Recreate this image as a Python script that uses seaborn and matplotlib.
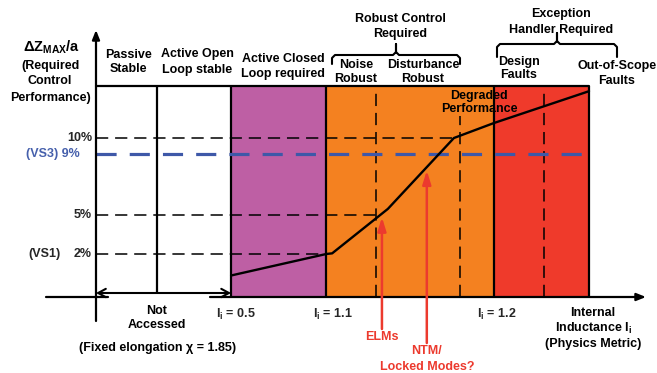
import numpy as np
import matplotlib
matplotlib.use("Agg")
import matplotlib.pyplot as plt
import seaborn as sns

# ---- data -----------------------------------------------------------------
# schematic internal-inductance axis: origin = 0, right edge of the box = 100
zone_edges = [0.0, 12.4, 27.4, 46.7, 80.7, 100.0]
zone_colors = ["white", "white", "#BE5FA4", "#F48120", "#EF3A2B"]
solid_dividers = [12.4, 27.4, 46.7, 80.7, 100.0]
dashed_dividers = [56.8, 73.8, 90.9]

# required control performance (dZmax/a, %) along the l_i axis
curve_x = [27.4, 46.7, 47.9, 59.2, 72.6, 80.7, 100.0]
curve_pct = [1.0, 2.0, 2.05, 5.4, 10.0, 11.15, 13.6]

threshold_pct = [2, 5, 10]
threshold_labels = ["2%", "5%", "10%"]
vs3_pct = 9
vs3_label = "(VS3) 9%"
box_top_pct = 14

li_tick_x = [27.4, 46.7, 80.7]
li_tick_values = ["0.5", "1.1", "1.2"]

event_x = [58.0, 67.1]
event_labels = [["ELMs"], ["NTM/", "Locked Modes?"]]

# ---- style ----------------------------------------------------------------
sns.set_style("white")
FONT = ["Liberation Sans", "DejaVu Sans"]
plt.rcParams["font.family"] = FONT
plt.rcParams["font.weight"] = "bold"
plt.rcParams["mathtext.default"] = "regular"

FS = 9
VS3_TXT = "#4660AC"
RED_TXT = "#EC3A2E"
BLUE = "#3E58A8"

W, H = 657, 373
fig = plt.figure(figsize=(W / 100, H / 100), dpi=100)
ax = fig.add_axes([0, 0, 1, 1])

# the % axis of the schematic is not linear: map % to drawing height
pct_anchor = np.array([-20, 0, 2, 5, 9, 10, 14, 40], dtype=float)
pos_anchor = np.array([-200, 0, 43, 82, 143, 159, 211, 549], dtype=float)


def fwd(v):
    return np.interp(v, pct_anchor, pos_anchor)


def inv(p):
    return np.interp(p, pos_anchor, pct_anchor)


ax.set_yscale("function", functions=(fwd, inv))

OX, OY, SX = 96, 297, 4.93  # origin pixel and pixels per schematic unit


def X(px):
    return (px - OX) / SX


def Y(py):
    return float(inv(OY - py))


ax.set_xlim(X(0), X(W))
ax.set_ylim(Y(H), Y(0))
ax.axis("off")

# ---- zones ----------------------------------------------------------------
ax.bar(zone_edges[:-1], box_top_pct, width=np.diff(zone_edges), align="edge",
       color=zone_colors, edgecolor="none", zorder=1)

for xv in solid_dividers:
    lo = Y(293) if xv == zone_edges[1] else 0
    ax.plot([xv, xv], [lo, box_top_pct], color="black", lw=1.6, zorder=4,
            solid_capstyle="butt")
for xv in dashed_dividers:
    hi = Y(116) if xv == dashed_dividers[1] else box_top_pct
    ax.plot([xv, xv], [0, hi], color="black", lw=1.1, dashes=(8, 4.5), zorder=3)
ax.plot([0, zone_edges[-1]], [box_top_pct, box_top_pct], color="black", lw=1.6,
        zorder=4)

# threshold guides end where the curve reaches them
for lv, lab in zip(threshold_pct, threshold_labels):
    x_end = np.interp(lv, curve_pct, curve_x)
    ax.plot([0, x_end], [lv, lv], color="black", lw=1.1, dashes=(8, 4.5), zorder=3)
    ax.text(X(92), lv, lab, ha="right", va="center", fontsize=FS, zorder=6)
ax.text(X(44), threshold_pct[0], "(VS1)", ha="center", va="center", fontsize=FS)

ax.plot([0, zone_edges[-1]], [vs3_pct, vs3_pct], color=BLUE, lw=2.3,
        dashes=(6.3, 4.1), zorder=5)
ax.text(X(80), vs3_pct, vs3_label, ha="right", va="center", fontsize=FS,
        color=VS3_TXT)

# required-performance curve
sns.lineplot(x=curve_x, y=curve_pct, color="black", lw=1.7, ax=ax, zorder=6)

# ---- axes -----------------------------------------------------------------
ax.annotate("", xy=(0, Y(30)), xytext=(0, Y(321)),
            arrowprops=dict(arrowstyle="-|>,head_length=0.55,head_width=0.22",
                            lw=1.6, color="black", shrinkA=0, shrinkB=0),
            annotation_clip=False, zorder=7)
ax.annotate("", xy=(X(646), 0), xytext=(X(210), 0),
            arrowprops=dict(arrowstyle="-|>,head_length=0.55,head_width=0.22",
                            lw=1.6, color="black", shrinkA=0, shrinkB=0),
            annotation_clip=False, zorder=7)
ax.plot([X(46), X(108)], [0, 0], color="black", lw=1.6, clip_on=False)
ax.annotate("", xy=(0, Y(293)), xytext=(zone_edges[2], Y(293)),
            arrowprops=dict(arrowstyle="<->,head_length=0.55,head_width=0.3",
                            lw=1.5, color="black", shrinkA=0, shrinkB=0),
            zorder=7)


# ---- braces ---------------------------------------------------------------
def brace(x0, x1, xm, yb, ytop, yend):
    xs = [x0, x0, x0 + 3, xm - 3, xm, xm, xm, xm + 3, x1 - 3, x1, x1]
    ys = [yend, yb + 3, yb, yb, yb - 3, ytop, yb - 3, yb, yb, yb + 3, yend]
    ax.plot([X(v) for v in xs], [Y(v) for v in ys], color="black", lw=1.5,
            clip_on=False)


brace(332, 460, 396, 55, 44, 64)
brace(497, 617, 557, 44, 33, 57)


# ---- text -----------------------------------------------------------------
def put(px, py_first, lines, step=15, size=FS, color="black"):
    for i, s in enumerate(lines):
        ax.text(X(px), Y(py_first + i * step + 4.5), s, ha="center",
                va="baseline", fontsize=size, color=color, zorder=8)


put(52, 47, ["ΔZ$_\\mathregular{MAX}$/a"], size=10.5)
put(50, 64, ["(Required", "Control", "Performance)"], step=16)
put(128, 53, ["Passive", "Stable"])
put(197, 53, ["Active Open", "Loop stable"])
put(283, 58, ["Active Closed", "Loop required"])
put(400, 17, ["Robust Control", "Required"])
put(356, 64, ["Noise", "Robust"], step=14)
put(423, 64, ["Disturbance", "Robust"], step=14)
put(561, 13, ["Exception", "Handler Required"])
put(519, 60, ["Design", "Faults"], step=14)
put(617, 64, ["Out-of-Scope", "Faults"])
put(479, 95, ["Degraded", "Performance"], step=13)
put(157, 310, ["Not", "Accessed"], step=14)
put(158, 346, ["(Fixed elongation χ = 1.85)"])
put(593, 311, ["Internal", "Inductance I$_\\mathregular{i}$",
               "(Physics Metric)"], step=16)

li_label_px = [236, 333, 497]
for px, v in zip(li_label_px, li_tick_values):
    ax.text(X(px), Y(318), "I$_\\mathregular{i}$ = " + v, ha="center",
            va="baseline", fontsize=FS, zorder=8)

# ---- events on the curve --------------------------------------------------
event_tail_px = [329, 343]
event_text_px = [335, 350]
for ex, labs, tail, ty in zip(event_x, event_labels, event_tail_px, event_text_px):
    tip = float(inv(fwd(np.interp(ex, curve_x, curve_pct)) - 3))
    ax.annotate("", xy=(ex, tip), xytext=(ex, Y(tail)),
                arrowprops=dict(arrowstyle="-|>,head_length=0.8,head_width=0.25",
                                lw=1.8, color=RED_TXT, shrinkA=0, shrinkB=0),
                annotation_clip=False, zorder=7)
    put(OX + ex * SX, ty, labs, step=16, color=RED_TXT)

fig.savefig("out.png", dpi=100)
